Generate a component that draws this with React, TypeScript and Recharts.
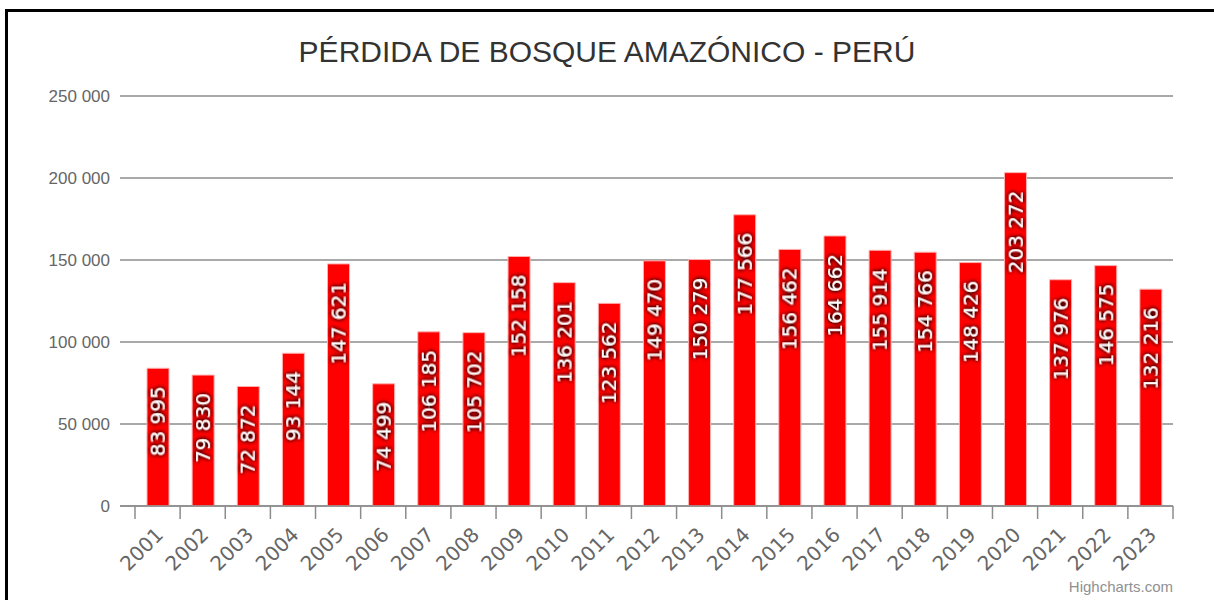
import React from 'react';
import { BarChart, Bar, XAxis, YAxis, CartesianGrid, LabelList } from 'recharts';

const years = [
  '2001', '2002', '2003', '2004', '2005', '2006', '2007', '2008', '2009', '2010', '2011', '2012',
  '2013', '2014', '2015', '2016', '2017', '2018', '2019', '2020', '2021', '2022', '2023',
];
const loss = [
  83995, 79830, 72872, 93144, 147621, 74499, 106185, 105702, 152158, 136201, 123562, 149470,
  150279, 177566, 156462, 164662, 155914, 154766, 148426, 203272, 137976, 146575, 132216,
];
const yTicks = [0, 50000, 100000, 150000, 200000, 250000];

const data = years.map((year, i) => ({ year, loss: loss[i] }));

// space as thousands separator, like the original
const fmt = (v: number) => String(v).replace(/\B(?=(\d{3})+(?!\d))/g, ' ');

const STEP = (1173 - 135) / years.length;

const XTick = (props: any) => {
  const { x, y, payload, index } = props;
  const left = x - STEP / 2;
  return (
    <g>
      <line x1={left} x2={left} y1={y} y2={y + 13} stroke="#8c8c8c" strokeWidth={1.5} />
      {index === years.length - 1 && (
        <line x1={x + STEP / 2} x2={x + STEP / 2} y1={y} y2={y + 13} stroke="#8c8c8c" strokeWidth={1.5} />
      )}
      <text
        x={x + 7}
        y={y + 30}
        transform={`rotate(-45 ${x + 7} ${y + 30})`}
        textAnchor="end"
        fill="#666666"
        fontSize={20}
        fontFamily="'DejaVu Sans', Verdana, sans-serif"
      >
        {payload.value}
      </text>
    </g>
  );
};

const BarLabel = (props: any) => {
  const { x, y, width, value, index } = props;
  const cx = x + width / 2;
  const ty = y + 18;
  return (
    <g>
      {index === 0 && (
        <defs>
          <filter id="lblShadow" x="-20%" y="-40%" width="140%" height="180%">
            <feGaussianBlur in="SourceAlpha" stdDeviation="2.2" result="blur" />
            <feComponentTransfer in="blur" result="dark">
              <feFuncA type="linear" slope="1.8" />
            </feComponentTransfer>
            <feMerge>
              <feMergeNode in="dark" />
              <feMergeNode in="SourceGraphic" />
            </feMerge>
          </filter>
        </defs>
      )}
      <text
        x={cx}
        y={ty}
        transform={`rotate(-90 ${cx} ${ty})`}
        textAnchor="end"
        dominantBaseline="central"
        fill="#ffffff"
        fontSize={20}
        fontFamily="'DejaVu Sans', Verdana, sans-serif"
        filter="url(#lblShadow)"
      >
        {fmt(value)}
      </text>
    </g>
  );
};

export default function App() {
  return (
    <div style={{ position: 'fixed', left: 0, top: 0, width: 1214, height: 600, background: '#fff', overflow: 'hidden' }}>
      <div
        style={{
          position: 'absolute',
          left: 5,
          top: 9,
          width: 1300,
          height: 700,
          borderLeft: '3px solid #000',
          borderTop: '3px solid #000',
        }}
      />
      <div
        style={{
          position: 'absolute',
          left: 0,
          width: 1214,
          top: 37,
          textAlign: 'center',
          fontFamily: "'Liberation Sans', Arial, sans-serif",
          fontSize: 30,
          lineHeight: '30px',
          color: '#333333',
        }}
      >
        PÉRDIDA DE BOSQUE AMAZÓNICO - PERÚ
      </div>
      <div style={{ position: 'absolute', left: 0, top: 0 }}>
        <BarChart width={1214} height={600} data={data} margin={{ top: 96, right: 41, bottom: 64, left: 0 }}>
          <CartesianGrid horizontal vertical={false} stroke="#8c8c8c" strokeWidth={1.5} />
          <XAxis
            dataKey="year"
            height={30}
            padding={{ left: 15, right: 0 }}
            axisLine={{ stroke: '#8c8c8c', strokeWidth: 1.5 }}
            tickLine={false}
            tickSize={0}
            tickMargin={0}
            interval={0}
            tick={<XTick />}
          />
          <YAxis
            width={120}
            domain={[0, 250000]}
            ticks={yTicks}
            axisLine={false}
            tickLine={false}
            tickSize={0}
            tickMargin={10}
            tickFormatter={fmt}
            tick={{ fill: '#666666', fontSize: 17, fontFamily: "'Liberation Sans', Arial, sans-serif" }}
          />
          <Bar dataKey="loss" fill="#ff0000" stroke="#ffb0b0" strokeWidth={1} barSize={22} isAnimationActive={false}>
            <LabelList dataKey="loss" content={<BarLabel />} />
          </Bar>
        </BarChart>
      </div>
      <div
        style={{
          position: 'absolute',
          right: 41,
          top: 579,
          fontFamily: "'Liberation Sans', Arial, sans-serif",
          fontSize: 15,
          lineHeight: '15px',
          color: '#909090',
        }}
      >
        Highcharts.com
      </div>
    </div>
  );
}
